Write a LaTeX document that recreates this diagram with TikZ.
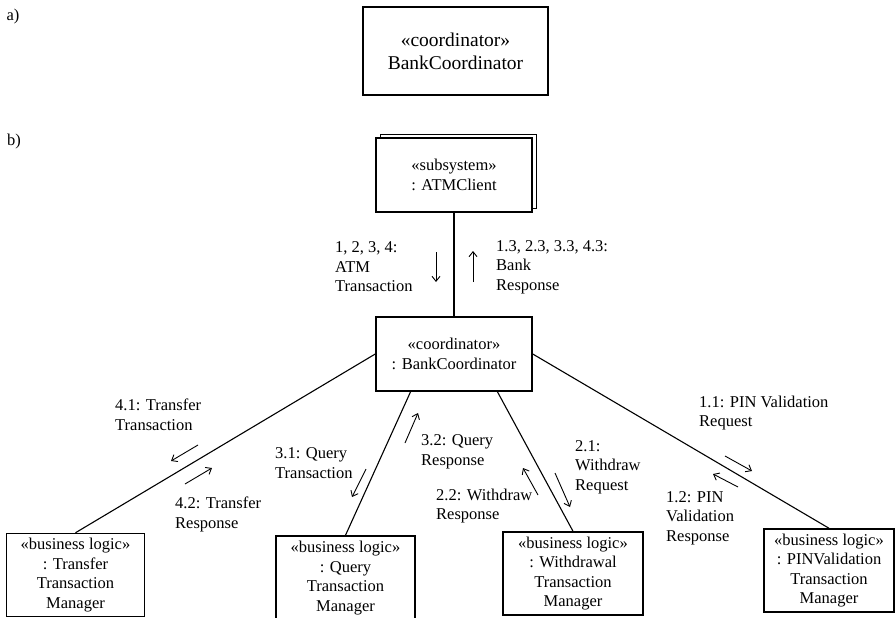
\documentclass[tikz,border=0pt]{standalone}
\usepackage{fontspec}
\setmainfont{Liberation Serif}
\usepackage{tikz}
\usetikzlibrary{arrows.meta, positioning, calc}

\begin{document}
\begin{tikzpicture}[x=1pt, y=-1pt,
  font=\fontsize{16.5}{19.5}\selectfont,
  obj/.style={draw, line width=1.5pt, align=center, inner sep=0pt,
    minimum width=156pt, minimum height=74pt},
  biz/.style={obj, minimum width=138pt, minimum height=83pt},
  link/.style={line width=1.1pt},
  msg/.style={-{Straight Barb[length=5pt, width=8pt]}, line width=0.9pt},
  lbl/.style={anchor=west, align=left, inner sep=0pt}]
  \useasboundingbox (0,0) rectangle (895,618);

  % a) the coordinator class
  \node[inner sep=0pt] (parta) at (13,17) {a)};
  \node[obj, minimum width=185pt, minimum height=88pt,
    font=\fontsize{19.5}{23}\selectfont] (boxa) at (455.5,51)
    {«coordinator»\\BankCoordinator};

  % b) the collaboration
  \node[inner sep=0pt] (partb) at (14,142) {b)};
  \node[obj, fill=white, line width=1pt] (atmback) at (458,171) {};
  \node[obj, fill=white] (atm) at (454,175) {«subsystem»\\: ATMClient};
  \node[obj] (bank) at (454,354) {«coordinator»\\: BankCoordinator};

  \node[biz] (transfer) at (75.5,575) {«business logic»\\: Transfer\\Transaction\\Manager};
  \node[biz, minimum width=139pt, minimum height=84pt] (query) at (345.5,578)
    {«business logic»\\: Query\\Transaction\\Manager};
  \node[biz, minimum width=140pt] (withdraw) at (573,573.5)
    {«business logic»\\: Withdrawal\\Transaction\\Manager};
  \node[biz, minimum width=130pt] (pin) at (829,570.5)
    {«business logic»\\: PINValidation\\Transaction\\Manager};

  \draw[link] (atm.south) -- (bank.north);
  \draw[link] (bank.west) -- (transfer.north);
  \draw[link] (bank.221) -- (query.north);
  \draw[link] (bank.-41) -- (withdraw.north);
  \draw[link] (bank.east) -- (pin.north);

  % message arrows
  \path (436,252) coordinate (m1s) (436,282) coordinate (m1e)
        (473,282) coordinate (m13s) (473,251) coordinate (m13e)
        (198,445) coordinate (m41s) (171,461) coordinate (m41e)
        (185,484) coordinate (m42s) (212,468) coordinate (m42e)
        (366,469) coordinate (m31s) (352,497) coordinate (m31e)
        (405,443) coordinate (m32s) (418,413) coordinate (m32e)
        (555,473) coordinate (m21s) (570,507) coordinate (m21e)
        (538,495) coordinate (m22s) (523,468) coordinate (m22e)
        (725,456) coordinate (m11s) (752,471) coordinate (m11e)
        (738,487) coordinate (m12s) (713,474) coordinate (m12e);
  \foreach \m in {m1, m13, m41, m42, m31, m32, m21, m22, m11, m12}
    \draw[msg] (\m s) -- (\m e);

  \node[lbl] (l1) at (335,267) {1, 2, 3, 4:\\ATM\\Transaction};
  \node[lbl] (l13) at (496,267) {1.3, 2.3, 3.3, 4.3:\\Bank\\Response};
  \node[lbl] (l41) at (115,415) {4.1: Transfer\\Transaction};
  \node[lbl] (l42) at (175,514.5) {4.2: Transfer\\Response};
  \node[lbl] (l31) at (275,463) {3.1: Query\\Transaction};
  \node[lbl] (l32) at (421,452) {3.2: Query\\Response};
  \node[lbl] (l22) at (436,506) {2.2: Withdraw\\Response};
  \node[lbl] (l21) at (575,467) {2.1:\\Withdraw\\Request};
  \node[lbl] (l11) at (699,413) {1.1: PIN Validation\\Request};
  \node[lbl] (l12) at (666,518) {1.2: PIN\\Validation\\Response};
\end{tikzpicture}
\end{document}
